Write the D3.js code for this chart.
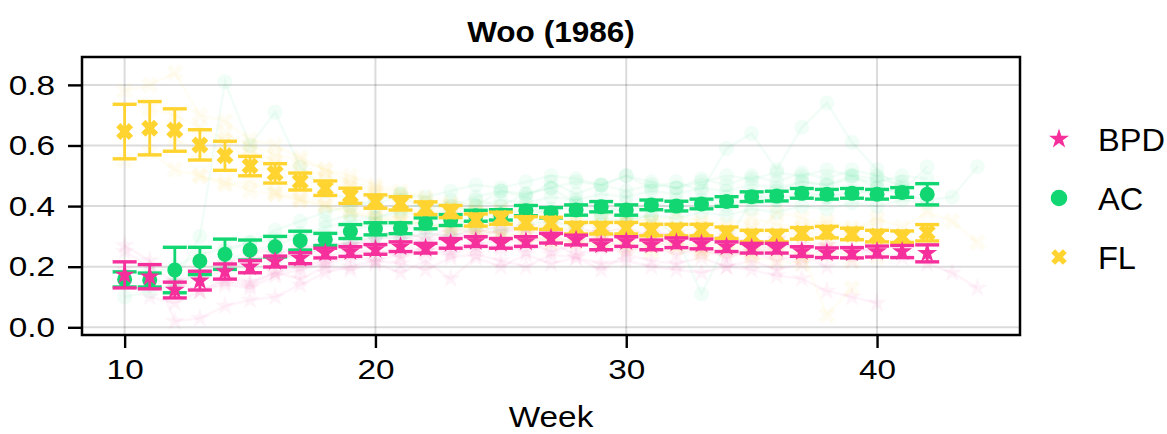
<!DOCTYPE html>
<html><head><meta charset="utf-8">
<script src="https://cdn.jsdelivr.net/npm/d3@7"></script>
<style>body{margin:0;background:#fff} svg{display:block} text{font-family:"Liberation Sans",Arial,Helvetica,sans-serif;fill:#000}</style>
</head><body><svg id="c" width="1167" height="434"></svg>
<script>
// ---- data ----
const weeks = [10,11,12,13,14,15,16,17,18,19,20,21,22,23,24,25,26,27,28,29,30,31,32,33,34,35,36,37,38,39,40,41,42];
const groups = ["BPD","AC","FL"];
const bpdMean = [0.173,0.167,0.123,0.154,0.184,0.200,0.217,0.228,0.245,0.250,0.257,0.266,0.261,0.277,0.283,0.277,0.283,0.294,0.288,0.272,0.283,0.272,0.279,0.275,0.266,0.261,0.261,0.250,0.246,0.246,0.250,0.250,0.244];
const bpdErr  = [0.043,0.040,0.026,0.031,0.025,0.020,0.018,0.018,0.016,0.016,0.016,0.016,0.016,0.016,0.016,0.016,0.016,0.016,0.016,0.016,0.016,0.016,0.016,0.016,0.016,0.016,0.016,0.016,0.016,0.017,0.018,0.020,0.028];
const acMean  = [0.158,0.156,0.189,0.219,0.241,0.255,0.266,0.286,0.290,0.316,0.325,0.327,0.343,0.354,0.368,0.371,0.385,0.378,0.387,0.398,0.387,0.404,0.400,0.407,0.415,0.431,0.433,0.442,0.439,0.442,0.439,0.445,0.439];
const acErr   = [0.025,0.023,0.075,0.045,0.050,0.033,0.034,0.031,0.020,0.023,0.020,0.018,0.018,0.018,0.018,0.017,0.017,0.017,0.017,0.017,0.017,0.016,0.016,0.016,0.016,0.016,0.016,0.016,0.016,0.016,0.016,0.016,0.035];
const flMean  = [0.646,0.657,0.651,0.602,0.566,0.532,0.508,0.481,0.459,0.434,0.415,0.409,0.393,0.382,0.354,0.360,0.345,0.343,0.327,0.327,0.327,0.321,0.321,0.321,0.312,0.301,0.301,0.310,0.314,0.308,0.301,0.299,0.312];
const flErr   = [0.090,0.088,0.070,0.050,0.048,0.032,0.032,0.028,0.024,0.025,0.022,0.022,0.021,0.020,0.020,0.020,0.020,0.020,0.019,0.019,0.019,0.019,0.019,0.019,0.019,0.019,0.019,0.019,0.019,0.019,0.019,0.019,0.027];

// faint individual trajectories: [start week, values...]
const bpdIndividuals = [
  [10,0.27,0.22,0.02,0.03,0.07,0.09,0.10,0.14,0.18,0.20,0.22,0.21,0.19,0.23,0.24,0.22,0.20,0.24,0.23,0.21,0.22,0.20,0.19,0.18,0.20,0.19,0.17,0.16,0.12,0.10,0.08],
  [10,0.25,0.20,0.15,0.12,0.16,0.15,0.18,0.20,0.22,0.24,0.26,0.23,0.25,0.24,0.27,0.26,0.28,0.25,0.27,0.29,0.26,0.28,0.27,0.25,0.24,0.26,0.25,0.23,0.24,0.22,0.24,0.23,0.21,0.18,0.13],
  [11,0.10,0.08,0.12,0.14,0.13,0.17,0.19,0.21,0.23,0.22,0.24,0.26,0.25,0.27,0.29,0.28,0.30,0.28,0.31,0.30,0.29,0.28,0.30,0.29,0.27,0.28,0.26,0.27,0.25,0.26],
  [12,0.15,0.18,0.20,0.22,0.24,0.23,0.26,0.28,0.27,0.29,0.31,0.30,0.32,0.31,0.33,0.32,0.30,0.31,0.33,0.30,0.31,0.29,0.30,0.28,0.29],
  [13,0.12,0.15,0.14,0.18,0.16,0.20,0.19,0.21,0.18,0.22,0.16,0.23,0.20,0.24,0.21,0.23,0.19,0.24,0.22,0.21,0.23,0.20,0.22,0.19,0.21],
  [10,0.19,0.17,0.13,0.16,0.19,0.22,0.24,0.26,0.28,0.27,0.29,0.30,0.28,0.31,0.30,0.32,0.33,0.31,0.30,0.32,0.29,0.31,0.30,0.28,0.29,0.27,0.26,0.28,0.27,0.26,0.25],
  [15,0.24,0.26,0.25,0.28,0.27,0.30,0.32,0.29,0.33,0.31,0.34,0.32,0.30,0.33,0.31,0.29,0.32,0.30,0.28,0.31,0.27,0.29],
  [14,0.21,0.24,0.22,0.25,0.23,0.26,0.24,0.27,0.25,0.28,0.26,0.27,0.25,0.28,0.24,0.26,0.25,0.27,0.24,0.26,0.23,0.25,0.22,0.24,0.20]
];
const acIndividuals = [
  [12,0.15,0.30,0.81,0.60,0.71,0.53,0.45,0.42,0.40,0.44,0.38,0.42,0.40,0.45,0.43,0.48,0.44,0.47,0.50,0.46,0.48,0.45,0.59,0.64,0.52,0.66,0.74,0.61,0.52,0.45,0.53],
  [24,0.42,0.40,0.44,0.46,0.41,0.38,0.36,0.37,0.30,0.11,0.28,0.42,0.45,0.48,0.47,0.50,0.46,0.44,0.42,0.43,0.53],
  [10,0.10,0.12,0.14,0.18,0.22,0.25,0.27,0.30,0.33,0.35,0.36,0.38,0.37,0.39,0.40,0.42,0.41,0.43,0.42,0.44,0.43,0.45,0.44,0.46,0.45,0.47,0.46,0.48,0.47,0.49,0.48,0.50,0.49],
  [11,0.18,0.20,0.24,0.26,0.28,0.29,0.31,0.30,0.32,0.34,0.33,0.35,0.36,0.34,0.37,0.39,0.38,0.40,0.37,0.41,0.40,0.42,0.41,0.43,0.44,0.42,0.45,0.43,0.44,0.46,0.45],
  [14,0.25,0.28,0.32,0.35,0.38,0.40,0.42,0.44,0.43,0.45,0.47,0.46,0.48,0.50,0.49,0.47,0.50,0.48,0.46,0.49,0.47,0.50,0.48,0.51,0.49,0.52,0.50,0.48],
  [16,0.22,0.24,0.26,0.28,0.30,0.29,0.31,0.30,0.33,0.32,0.34,0.35,0.33,0.36,0.35,0.37,0.36,0.38,0.37,0.39,0.38,0.40,0.39,0.41,0.40,0.42,0.41],
  [18,0.35,0.37,0.36,0.39,0.41,0.40,0.43,0.45,0.44,0.46,0.48,0.47,0.45,0.47,0.46,0.48,0.50,0.49,0.51,0.50,0.52,0.50,0.49,0.47],
  [20,0.30,0.32,0.34,0.33,0.36,0.38,0.37,0.39,0.41,0.40,0.38,0.41,0.39,0.42,0.40,0.43,0.42,0.44,0.43,0.45,0.44,0.46]
];
const flIndividuals = [
  [10,0.78,0.80,0.84,0.70,0.68,0.62,0.60,0.56,0.52,0.48,0.46,0.44,0.42,0.40,0.38,0.39,0.37,0.36,0.35,0.34,0.36,0.35,0.33,0.34,0.32,0.33,0.31,0.32,0.30,0.31,0.29,0.30],
  [10,0.55,0.58,0.52,0.50,0.48,0.45,0.44,0.42,0.40,0.38,0.36,0.35,0.34,0.33,0.32,0.31,0.30,0.29,0.30,0.28,0.29,0.27,0.28,0.26,0.27,0.25,0.26,0.24,0.25,0.24,0.23],
  [11,0.72,0.70,0.66,0.62,0.58,0.55,0.52,0.50,0.47,0.45,0.43,0.41,0.40,0.38,0.37,0.36,0.35,0.34,0.33,0.35,0.34,0.32,0.33,0.31,0.32,0.30,0.31,0.29,0.30,0.28],
  [12,0.62,0.58,0.60,0.56,0.53,0.50,0.48,0.46,0.44,0.42,0.40,0.39,0.37,0.36,0.34,0.33,0.32,0.31,0.30,0.29,0.28,0.27,0.28,0.26,0.27,0.25,0.04,0.13],
  [14,0.64,0.60,0.57,0.55,0.52,0.50,0.47,0.45,0.43,0.41,0.40,0.38,0.39,0.37,0.36,0.38,0.36,0.35,0.37,0.35,0.34,0.36,0.34,0.33,0.35,0.33,0.34],
  [16,0.44,0.42,0.40,0.38,0.36,0.35,0.34,0.32,0.31,0.30,0.29,0.28,0.29,0.27,0.28,0.26,0.27,0.25,0.26,0.24,0.25,0.23,0.24,0.22],
  [20,0.40,0.38,0.39,0.36,0.34,0.35,0.33,0.34,0.32,0.31,0.33,0.30,0.32,0.30,0.31,0.29,0.38,0.36,0.34,0.32,0.36,0.33,0.38,0.35,0.28],
  [13,0.50,0.47,0.48,0.45,0.43,0.41,0.39,0.37,0.36,0.34,0.33,0.32,0.31,0.30,0.29,0.28,0.27,0.26,0.25,0.26,0.24,0.25,0.23,0.22,0.21]
];
const xTicks = [10,20,30,40];
const yTicks = [0.0,0.2,0.4,0.6,0.8];
const colors = {BPD:"#f5309c", AC:"#12d672", FL:"#ffd430"};
const shapes = {BPD:"star", AC:"circle", FL:"x"};
const series = {
  BPD:{mean:bpdMean, err:bpdErr, ind:bpdIndividuals},
  AC:{mean:acMean, err:acErr, ind:acIndividuals},
  FL:{mean:flMean, err:flErr, ind:flIndividuals}
};

// ---- layout ----
const L=82, R=1020, T=57, B=335;
const svg = d3.select("#c");
const x = d3.scaleLinear().domain([8.3,45.7]).range([L,R]);
const y = d3.scaleLinear().domain([-0.0254,0.892]).range([B,T]);

function markerPath(shape, s){
  if(shape==="star") return d3.symbol(d3.symbolStar, s*s/0.8908130915292852)();
  if(shape==="circle") return d3.symbol(d3.symbolCircle, Math.PI*s*s)();
  const base=[[-1,-3],[-1,-1],[-3,-1],[-3,1],[-1,1],[-1,3],[1,3],[1,1],[3,1],[3,-1],[1,-1],[1,-3]];
  const k = s/2.83, c=Math.SQRT1_2;
  return "M"+base.map(([a,b])=>[((a-b)*c*k).toFixed(2),((a+b)*c*k).toFixed(2)].join(",")).join("L")+"Z";
}
const msize = {star:10.5, circle:7.5, x:8.5};

// stretched text helper (horizontal scale about anchor)
function stext(parent, px, py, str, size, sx, anchor, weight){
  return parent.append("text").attr("transform",`translate(${px},${py}) scale(${sx},1)`)
    .attr("text-anchor",anchor).attr("font-size",size).attr("font-weight",weight||"normal").text(str);
}

// grid
const grid = svg.append("g");
grid.selectAll("line.v").data(xTicks).join("line")
  .attr("x1",d=>x(d)).attr("x2",d=>x(d)).attr("y1",T).attr("y2",B)
  .attr("stroke","#000").attr("stroke-opacity",0.14).attr("stroke-width",2);
grid.selectAll("line.h").data(yTicks).join("line")
  .attr("y1",d=>y(d)).attr("y2",d=>y(d)).attr("x1",L).attr("x2",R)
  .attr("stroke","#000").attr("stroke-opacity",0.14).attr("stroke-width",2);

// clip
svg.append("clipPath").attr("id","clip").append("rect").attr("x",L).attr("y",T).attr("width",R-L).attr("height",B-T);
const plot = svg.append("g").attr("clip-path","url(#clip)");

// faint individuals
const faint = plot.append("g");
groups.forEach(g=>{
  series[g].ind.forEach(row=>{
    const start=row[0];
    const pts=row.slice(1).map((v,i)=>[start+i,v]);
    faint.append("path").attr("d",d3.line().x(d=>x(d[0])).y(d=>y(d[1]))(pts))
      .attr("fill","none").attr("stroke",colors[g]).attr("stroke-width",2.5).attr("stroke-opacity",0.05);
    faint.selectAll(null).data(pts).join("path")
      .attr("d",markerPath(shapes[g],msize[shapes[g]]))
      .attr("transform",d=>`translate(${x(d[0])},${y(d[1])})`)
      .attr("fill",colors[g]).attr("fill-opacity",0.06);
  });
});

// means with error bars
["AC","FL","BPD"].forEach(g=>{
  const s=series[g];
  const data=weeks.map((w,i)=>({w,m:s.mean[i],e:s.err[i]}));
  const gg=plot.append("g");
  const cw=12;
  gg.selectAll("line.eb").data(data).join("line")
    .attr("x1",d=>x(d.w)).attr("x2",d=>x(d.w)).attr("y1",d=>y(d.m-d.e)).attr("y2",d=>y(d.m+d.e))
    .attr("stroke",colors[g]).attr("stroke-width",2.8);
  gg.selectAll("line.ct").data(data).join("line")
    .attr("x1",d=>x(d.w)-cw).attr("x2",d=>x(d.w)+cw).attr("y1",d=>y(d.m+d.e)).attr("y2",d=>y(d.m+d.e))
    .attr("stroke",colors[g]).attr("stroke-width",3.4);
  gg.selectAll("line.cb").data(data).join("line")
    .attr("x1",d=>x(d.w)-cw).attr("x2",d=>x(d.w)+cw).attr("y1",d=>y(d.m-d.e)).attr("y2",d=>y(d.m-d.e))
    .attr("stroke",colors[g]).attr("stroke-width",3.4);
  gg.selectAll("path.mk").data(data).join("path")
    .attr("d",markerPath(shapes[g],msize[shapes[g]]))
    .attr("transform",d=>`translate(${x(d.w)},${y(d.m)})`)
    .attr("fill",colors[g]);
});

// axes (tick marks from d3 axes, labels stretched horizontally)
const tickFs=28.5, tickSx=1.17;
const ax=svg.append("g").attr("transform",`translate(0,${B})`)
  .call(d3.axisBottom(x).tickValues(xTicks).tickFormat(d3.format("d")).tickSize(13).tickPadding(10));
const ay=svg.append("g").attr("transform",`translate(${L},0)`)
  .call(d3.axisLeft(y).tickValues(yTicks).tickFormat(d3.format(".1f")).tickSize(14).tickPadding(13));
[ax,ay].forEach(a=>{
  a.select(".domain").remove();
  a.selectAll(".tick line").attr("stroke","#000").attr("stroke-width",2.4);
  a.selectAll(".tick text").attr("font-size",tickFs).attr("fill","#000")
    .style("font-family","'Liberation Sans',Arial,sans-serif");
});
ay.selectAll(".tick text").each(function(){
  const t=d3.select(this); const xx=+t.attr("x");
  t.attr("x",xx/tickSx).attr("transform",`scale(${tickSx},1)`);
});
ax.selectAll(".tick text").attr("dy","0.75em").attr("transform",`scale(${tickSx},1)`);

// frame
svg.append("rect").attr("x",L).attr("y",T).attr("width",R-L).attr("height",B-T)
  .attr("fill","none").attr("stroke","#000").attr("stroke-width",2.5);

// title & label
stext(svg,(L+R)/2,42,"Woo (1986)",29.5,1.07,"middle","bold");
stext(svg,(L+R)/2,427,"Week",29.5,1.13,"middle");

// legend
const legY={BPD:139, AC:198, FL:257};
const legSize={star:10.5,circle:8.3,x:7.8};
groups.forEach(g=>{
  svg.append("path").attr("d",markerPath(shapes[g],legSize[shapes[g]]))
    .attr("transform",`translate(1059,${legY[g]})`).attr("fill",colors[g]);
  stext(svg,1098,legY[g]+11.5,g,31,1.05,"start");
});
</script></body></html>
